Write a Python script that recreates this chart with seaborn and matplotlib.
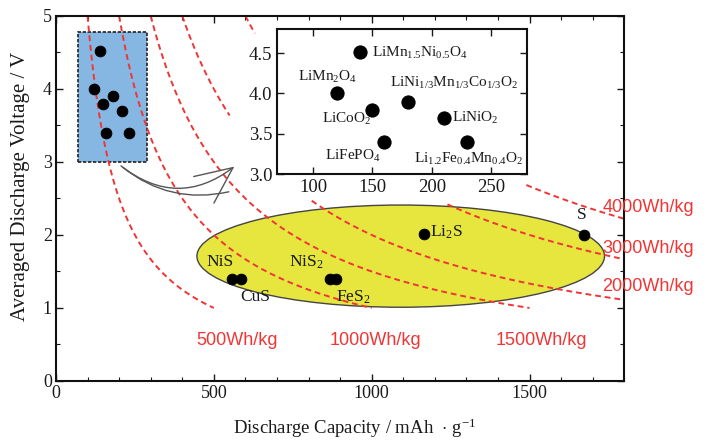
import numpy as np
import pandas as pd
import matplotlib
matplotlib.use("Agg")
import matplotlib.pyplot as plt
import seaborn as sns
from matplotlib.patches import Rectangle, Ellipse

# ---------------- data ----------------
cathode_names = [r"LiMn$_{1.5}$Ni$_{0.5}$O$_4$", r"LiMn$_2$O$_4$", r"LiCoO$_2$",
                 r"LiNi$_{1/3}$Mn$_{1/3}$Co$_{1/3}$O$_2$", r"LiNiO$_2$",
                 r"LiFePO$_4$", r"Li$_{1.2}$Fe$_{0.4}$Mn$_{0.4}$O$_2$"]
cathode_capacity = [140, 120, 150, 180, 210, 160, 230]
cathode_voltage = [4.52, 4.0, 3.8, 3.9, 3.7, 3.4, 3.4]

sulfide_names = ["NiS", "CuS", r"NiS$_2$", r"FeS$_2$", r"Li$_2$S", "S"]
sulfide_capacity = [556, 585, 869, 888, 1166, 1672]
sulfide_voltage = [1.4, 1.4, 1.4, 1.4, 2.02, 2.0]

energy_levels = [500, 1000, 1500, 2000, 3000, 4000]          # Wh/kg
energy_labels = ["500Wh/kg", "1000Wh/kg", "1500Wh/kg", "2000Wh/kg", "3000Wh/kg", "4000Wh/kg"]
# visible capacity ranges (mAh/g) of each iso-energy curve
energy_segments = [[(100, 500)], [(200, 1000)], [(300, 1500)],
                   [(400, 550), (810, 1800)], [(600, 630), (1240, 1800)], [(1490, 1800)]]

x_ticks = [0, 500, 1000, 1500]
y_ticks = [0, 1, 2, 3, 4, 5]
inset_x_ticks = [100, 150, 200, 250]
inset_y_ticks = [3.0, 3.5, 4.0, 4.5]

# ---------------- style ----------------
sns.set_theme(style="ticks")
plt.rcParams["font.family"] = ["Liberation Serif", "DejaVu Serif"]
plt.rcParams["mathtext.fontset"] = "custom"
plt.rcParams["mathtext.rm"] = "Liberation Serif"
plt.rcParams["mathtext.it"] = "Liberation Serif"
plt.rcParams["mathtext.default"] = "rm"

RED = "#f03535"
TXT = "#1a1a1a"
fig = plt.figure(figsize=(7.13, 4.43), dpi=100)
ax = fig.add_axes([0.0785, 0.140, 0.797, 0.824])
ax.set_xlim(0, 1800)
ax.set_ylim(0, 5)

# blue box and yellow ellipse
ax.add_patch(Rectangle((70, 3.0), 218, 1.78, facecolor="#86b6e2", edgecolor="#222222",
                       linestyle=(0, (2, 1)), lw=1.2, zorder=1))
ax.add_patch(Ellipse((1092, 1.71), 1291, 1.40, facecolor="#e6e63e", edgecolor="#444444",
                     lw=1.0, zorder=1))

# iso-energy curves
for E, segs in zip(energy_levels, energy_segments):
    for c0, c1 in segs:
        c = np.linspace(c0, c1, 200)
        ax.plot(c, E / c, color=RED, lw=1.4, dashes=(3, 2), zorder=2)

# points
sns.scatterplot(x=cathode_capacity, y=cathode_voltage, ax=ax, color="black", s=60,
                edgecolor="black", zorder=4, legend=False)
sns.scatterplot(x=sulfide_capacity, y=sulfide_voltage, ax=ax, color="black", s=60,
                edgecolor="black", zorder=4, legend=False)

sulfide_label_pos = [(519, 1.63, "center"), (630, 1.15, "center"), (794, 1.63, "center"),
                     (943, 1.14, "center"), (1184, 2.03, "left"), (1665, 2.27, "center")]
for name, (lx, ly, ha) in zip(sulfide_names, sulfide_label_pos):
    ax.text(lx, ly, name, fontsize=12.5, ha=ha, va="center", color=TXT, zorder=5)

# energy labels
energy_label_pos = [(573, 0.56, "center"), (1013, 0.56, "center"), (1538, 0.56, "center"),
                    (1731, 1.29, "left"), (1731, 1.81, "left"), (1731, 2.38, "left")]
for lab, (lx, ly, ha) in zip(energy_labels, energy_label_pos):
    ax.text(lx, ly, lab, fontsize=13, ha=ha, va="center", color=RED,
            family=["Liberation Sans", "DejaVu Sans"], clip_on=False, zorder=5)

# arrows
ax.annotate("", xy=(572, 2.96), xytext=(199, 2.97),
            arrowprops=dict(arrowstyle="->,head_length=2.2,head_width=1.0",
                            connectionstyle="arc3,rad=0.4", color="#555555", lw=1.0),
            zorder=3)
ax.annotate("", xy=(556, 2.60), xytext=(205, 2.95),
            arrowprops=dict(arrowstyle="-", connectionstyle="arc3,rad=0.25",
                            color="#555555", lw=1.0), zorder=3)

ax.set_xticks(x_ticks)
ax.set_yticks(y_ticks)
ax.set_xticks(np.arange(0, 1801, 100), minor=True)
ax.set_yticks(np.arange(0, 5.01, 0.5), minor=True)
ax.tick_params(which="both", direction="in", top=True, right=True, labelsize=13,
               colors=TXT, pad=3)
ax.tick_params(which="major", length=5, width=1.0)
ax.tick_params(which="minor", length=3, width=0.8)
for sp in ax.spines.values():
    sp.set_visible(True)
    sp.set_linewidth(1.5)
    sp.set_color("#111111")
ax.set_xlabel(r"Discharge Capacity / mAh  $\cdot$ g$^{\mathregular{-1}}$", fontsize=13.5,
              color=TXT)
ax.set_ylabel("Averaged Discharge Voltage / V", fontsize=15, color=TXT)
ax.xaxis.set_label_coords(0.525, -0.098)
ax.yaxis.set_label_coords(-0.045, 0.534)

# ---------------- inset ----------------
ins = fig.add_axes([0.389, 0.6072, 0.3497, 0.3273])
ins.set_facecolor("white")
ins.set_xlim(70, 280)
ins.set_ylim(3.0, 4.8)
sns.scatterplot(x=cathode_capacity, y=cathode_voltage, ax=ins, color="black", s=90,
                edgecolor="black", zorder=4, legend=False)
cathode_label_pos = [(150, 4.5, "left"), (112.6, 4.2, "center"), (149, 3.68, "right"),
                     (165, 4.13, "left"), (217, 3.7, "left"), (133.7, 3.23, "center"),
                     (231, 3.19, "center")]
for name, (lx, ly, ha) in zip(cathode_names, cathode_label_pos):
    ins.text(lx, ly, name, fontsize=11, ha=ha, va="center", color=TXT)
ins.set_xticks(inset_x_ticks)
ins.set_yticks(inset_y_ticks)
ins.set_yticklabels([f"{v:.1f}" for v in inset_y_ticks])
ins.tick_params(which="both", direction="in", top=True, right=True, labelsize=13.5,
                length=5, width=1.0, colors=TXT)
for sp in ins.spines.values():
    sp.set_visible(True)
    sp.set_linewidth(1.5)
    sp.set_color("#111111")

fig.savefig("out.png", dpi=100)
